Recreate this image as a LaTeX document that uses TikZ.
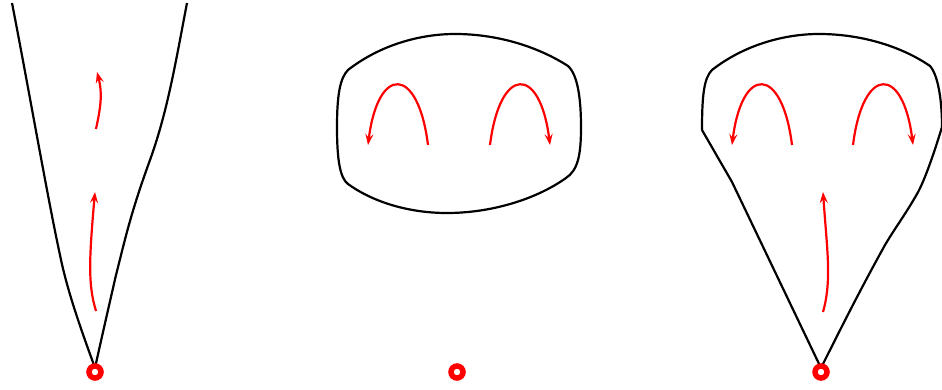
\documentclass[tikz,border=0pt]{standalone}
\usetikzlibrary{arrows.meta}
\tikzset{
  outline/.style={black, line width=2.2pt, line join=round},
  flow/.style={red, line width=2.2pt, -{Stealth[length=11pt,width=8pt,inset=4pt]}},
  origin/.style={red, line width=5.5pt}
}
\begin{document}
\begin{tikzpicture}[x=1pt,y=-1pt]
\useasboundingbox (0,0) rectangle (942,390);
% left shape
\draw[outline] (12,3) .. controls (28,85) and (48,200) .. (60,255) .. controls (68,295) and (85,340) .. (95,368);
\draw[outline] (187,3) .. controls (176,60) and (168,110) .. (150,160) .. controls (130,215) and (125,240) .. (116,275) .. controls (108,310) and (100,345) .. (95,368);
\draw[flow] (96,311) .. controls (88,285) and (89,260) .. (95,192);
\draw[flow] (96,129) .. controls (100,110) and (103,95) .. (97,72);
\draw[origin] (95,372) circle (6);
% middle shape
\draw[outline] (337,127) .. controls (337,95) and (340,78) .. (348,70) .. controls (380,45) and (420,34) .. (455,34) .. controls (500,34) and (540,48) .. (568,66) .. controls (578,75) and (581,100) .. (581,127) .. controls (581,155) and (578,170) .. (566,178) .. controls (535,200) and (490,213) .. (447,213) .. controls (405,213) and (370,200) .. (348,184) .. controls (340,178) and (337,160) .. cycle;
\draw[flow] (428,145) .. controls (418,65) and (378,65) .. (368,145);
\draw[flow] (490,145) .. controls (500,65) and (540,65) .. (550,145);
\draw[origin] (457,372) circle (6);
% right shape
\draw[outline] (702,130) .. controls (702,95) and (704,78) .. (712,70) .. controls (744,45) and (784,34) .. (819,34) .. controls (864,34) and (904,48) .. (930,66) .. controls (938,75) and (942,100) .. (942,127);
\draw[outline] (702,130) -- (732,182) -- (821,368);
\draw[outline] (942,127) .. controls (935,150) and (925,180) .. (917,194) .. controls (905,215) and (895,228) .. (885,245) .. controls (860,290) and (840,330) .. (821,368);
\draw[flow] (792,145) .. controls (782,65) and (742,65) .. (732,145);
\draw[flow] (853,145) .. controls (863,65) and (903,65) .. (913,145);
\draw[flow] (823,312) .. controls (832,280) and (827,250) .. (823,192);
\draw[origin] (821,372) circle (6);
\end{tikzpicture}
\end{document}
